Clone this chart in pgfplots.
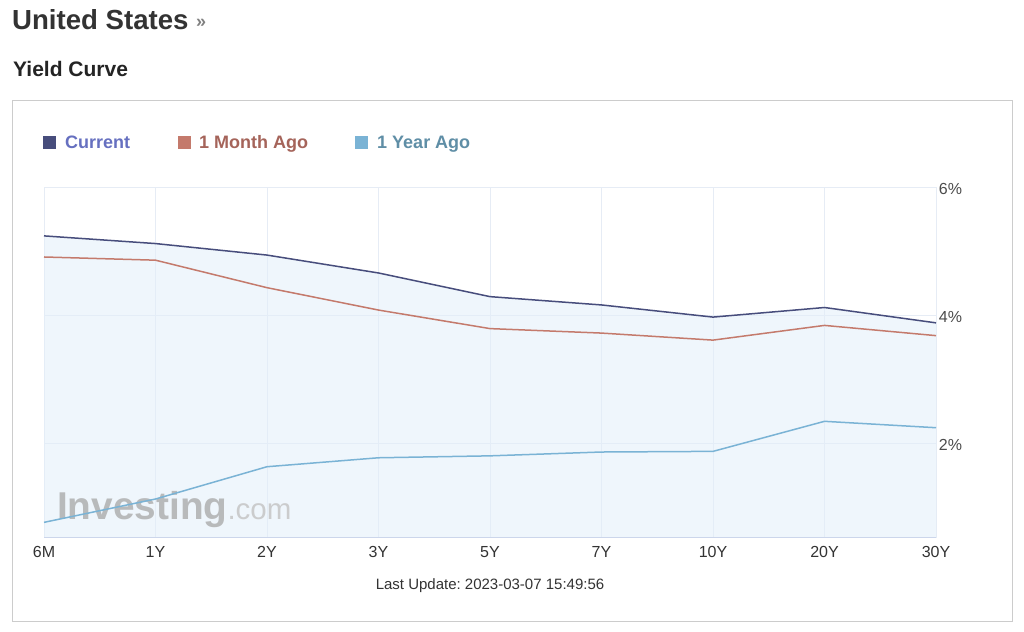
\documentclass[border=0pt]{standalone}
\usepackage{pgfplots}
\pgfplotsset{compat=1.18}
\usepackage{fontspec}
\setmainfont{Liberation Sans}
\frenchspacing
\definecolor{cur}{HTML}{474D7C}
\definecolor{mon}{HTML}{C47A6C}
\definecolor{yr}{HTML}{7AB3D5}
\definecolor{curtxt}{HTML}{6670C0}
\definecolor{montxt}{HTML}{A5645A}
\definecolor{yrtxt}{HTML}{5F8EA6}
\definecolor{gridc}{HTML}{E6ECF5}
\definecolor{fillc}{HTML}{E3EFFA}
\definecolor{txt}{HTML}{333333}
\definecolor{boxc}{HTML}{CCCCCC}
\definecolor{basec}{HTML}{CCD6EB}
\begin{document}
\begin{tikzpicture}[x=1pt,y=1pt]
\useasboundingbox (0,0) rectangle (1024,631);
\fill[white] (0,0) rectangle (1024,631);
% titles
\node[anchor=base west, inner sep=0, text=txt, font=\fontsize{27.6}{30}\selectfont\bfseries] at (12,601.7) {United States};
\node[anchor=base west, inner sep=0, text=gray, font=\fontsize{18}{20}\selectfont\bfseries] at (196,603) {»};
\node[anchor=base west, inner sep=0, text=txt!70!black, font=\fontsize{21}{23}\selectfont\bfseries] at (13,554.3) {Yield Curve};
% outer box
\draw[boxc, line width=1pt] (12.5,530.5) rectangle (1012.5,9.5);
% legend
\fill[cur] (43,482) rectangle (56,495);
\node[anchor=base west, inner sep=0, text=curtxt, font=\fontsize{18}{20}\selectfont\bfseries] at (65,482) {Current};
\fill[mon] (177.5,482) rectangle (190.5,495);
\node[anchor=base west, inner sep=0, text=montxt, font=\fontsize{18}{20}\selectfont\bfseries] at (199,482) {1 Month Ago};
\fill[yr] (355,482) rectangle (368,495);
\node[anchor=base west, inner sep=0, text=yrtxt, font=\fontsize{18}{20}\selectfont\bfseries] at (377,482) {1 Year Ago};
% footer
\node[anchor=base, inner sep=0, text=txt, font=\fontsize{15}{17}\selectfont] at (490,41.7) {Last Update: 2023-03-07 15:49:56};
\begin{axis}[
  at={(44pt,93.3pt)}, anchor=south west, scale only axis,
  width=892pt, height=350.4pt,
  xmin=0, xmax=8, ymin=0.52, ymax=6,
  xtick={0,...,8}, xticklabels={6M,1Y,2Y,3Y,5Y,7Y,10Y,20Y,30Y},
  ytick={2,4,6}, yticklabels={2\%,4\%,6\%},
  yticklabel pos=right,
  grid=major, major grid style={gridc, line width=1pt},
  axis line style={draw=none},
  major tick length=0pt,
  tick label style={font=\fontsize{16}{18}\selectfont, text=txt},
  xticklabel style={anchor=base, yshift=-20pt},
  yticklabel style={anchor=west, inner sep=0pt, xshift=2.7pt, yshift=-1.5pt, text=black!70},
  /pgf/number format/assume math mode=true,
  clip=false,
]
\addplot[fill=fillc, fill opacity=0.55, draw=none] coordinates {
(0,5.24) (1,5.12) (2,4.94) (3,4.66) (4,4.29) (5,4.16) (6,3.97) (7,4.12) (8,3.88)} \closedcycle;
\draw[basec, line width=1.2pt] (rel axis cs:0,0) -- (rel axis cs:1,0);
\node[anchor=base west, inner sep=0, opacity=0.8] at (axis cs:0.1166,0.80)
  {\textcolor[HTML]{ABABAB}{\fontsize{38.8}{40}\selectfont\bfseries Investing}\textcolor[HTML]{C2C2C2}{\fontsize{29.5}{30}\selectfont .com}};
\addplot[yr, line width=1.5pt] coordinates {
(0,0.76) (1,1.125) (2,1.63) (3,1.77) (4,1.80) (5,1.86) (6,1.87) (7,2.34) (8,2.24)};
\addplot[mon, line width=1.5pt] coordinates {
(0,4.91) (1,4.86) (2,4.43) (3,4.08) (4,3.79) (5,3.72) (6,3.61) (7,3.84) (8,3.68)};
\addplot[cur, line width=1.5pt] coordinates {
(0,5.24) (1,5.12) (2,4.94) (3,4.66) (4,4.29) (5,4.16) (6,3.97) (7,4.12) (8,3.88)};
\end{axis}
\end{tikzpicture}
\end{document}
